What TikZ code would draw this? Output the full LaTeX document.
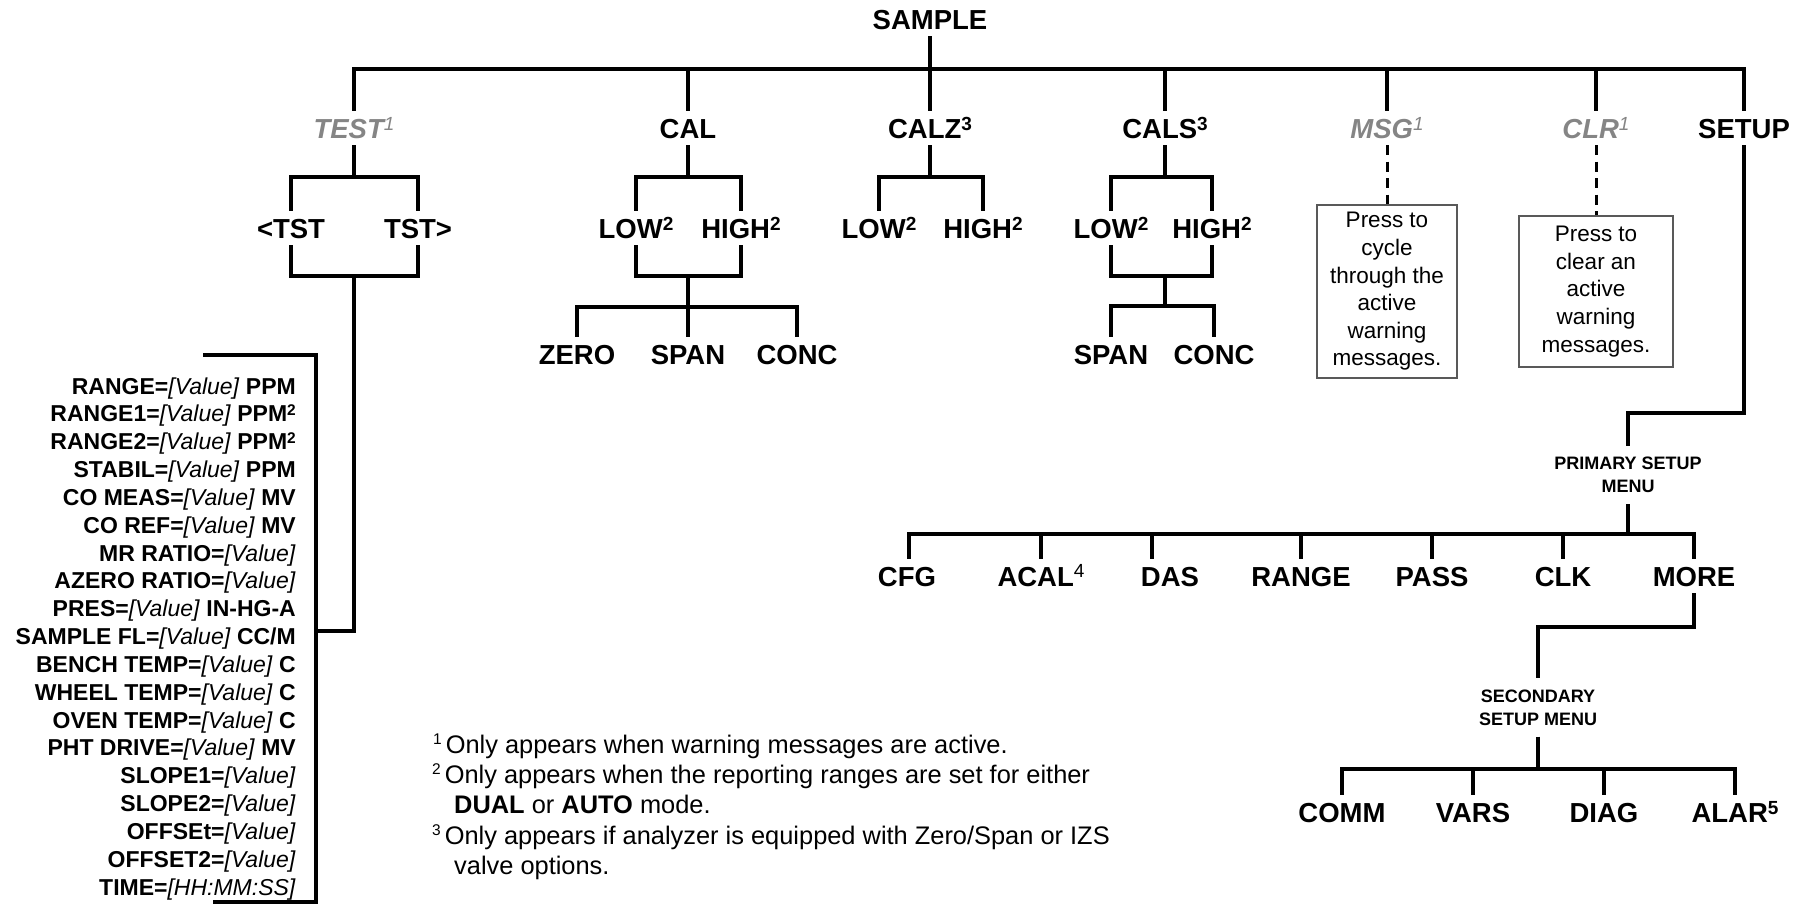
\documentclass[tikz,border=0pt]{standalone}
\usepackage{fontspec}
\setmainfont{Liberation Sans}
\definecolor{lgray}{gray}{0.52}
\definecolor{boxline}{gray}{0.35}
\newcommand\sups[1]{\raisebox{8pt}{\fontsize{19}{19}\selectfont #1}}
\newcommand\gsups[1]{\raisebox{8pt}{\fontsize{19}{19}\selectfont\mdseries\itshape #1}}
\newcommand\msups[1]{\raisebox{9pt}{\fontsize{19}{19}\selectfont\mdseries #1}}
\newcommand\rsup[1]{\raisebox{6pt}{\fontsize{15.5}{15.5}\selectfont #1}}
\newcommand\fsup[1]{\raisebox{9pt}{\fontsize{15.5}{15.5}\selectfont #1}}
\newcommand\vl{\textmd{\textit{[Value]}}}
\tikzset{
 lbl/.style={font=\fontsize{27.5}{30}\selectfont\bfseries, text height=20pt, text depth=0pt, inner xsep=1pt, inner ysep=7pt},
 glbl/.style={lbl, text=lgray, font=\fontsize{27.5}{30}\selectfont\bfseries\itshape},
 menu/.style={font=\fontsize{18}{23}\selectfont\bfseries, align=center, inner ysep=11pt, inner xsep=1pt},
 conn/.style={line width=4.8pt, line join=miter},
 dconn/.style={line width=3pt, dash pattern=on 10pt off 6.5pt},
 note/.style={draw=boxline, line width=1.3pt, font=\fontsize{22.5}{27.6}\selectfont, align=center, inner sep=0pt},
 row/.style={font=\fontsize{23}{27}\selectfont\bfseries, anchor=base east, inner sep=0pt},
 fn/.style={font=\fontsize{25.4}{30}\selectfont, anchor=base west, inner sep=0pt},
}
\begin{document}
\begin{tikzpicture}[x=1pt,y=-1pt]
\useasboundingbox (0,0) rectangle (1808,905);

% top level
\node[lbl] (sample) at (930,19) {SAMPLE};
\node[glbl] (test) at (354,128) {TEST\gsups{1}};
\node[lbl] (cal) at (688,128) {CAL};
\node[lbl] (calz) at (930,128) {CALZ\sups{3}};
\node[lbl] (cals) at (1165,128) {CALS\sups{3}};
\node[glbl] (msg) at (1387,128) {MSG\gsups{1}};
\node[glbl] (clr) at (1596,128) {CLR\gsups{1}};
\node[lbl] (setup) at (1744,128) {SETUP};
\coordinate (mbL) at (354,69);
\coordinate (mbR) at (1744,69);
\draw[conn] (test.north) -- (mbL) -- (mbR) -- (setup.north);
\foreach \n in {cal,cals,msg,clr} \draw[conn] (\n.north) -- (\n.north |- mbL);
\draw[conn] (sample.south) -- (calz.north);

% TEST subtree
\node[lbl] (ltst) at (291,228) {<TST};
\node[lbl] (rtst) at (418,228) {TST>};
\coordinate (tj1) at (354,177);
\coordinate (tj2) at (354,276);
\coordinate (tj3) at (354,631);
\coordinate (lj) at (316,631);
\draw[conn] (test.south) -- (tj1);
\draw[conn] (ltst.north) |- (tj1) -| (rtst.north);
\draw[conn] (ltst.south) |- (tj2) -| (rtst.south);
\draw[conn] (tj2) -- (tj3) -- (lj);
\coordinate (lt1) at (203,355);
\coordinate (lt2) at (316,355);
\coordinate (lb2) at (316,902);
\coordinate (lb1) at (213,902);
\draw[conn] (lt1) -- (lt2) -- (lb2) -- (lb1);

% list
\node[row] (r1) at (296,394) {RANGE=\vl{} PPM};
\node[row] (r2) at (296,421.8) {RANGE1=\vl{} PPM\rsup{2}};
\node[row] (r3) at (296,449.7) {RANGE2=\vl{} PPM\rsup{2}};
\node[row] (r4) at (296,477.5) {STABIL=\vl{} PPM};
\node[row] (r5) at (296,505.3) {CO MEAS=\vl{} MV};
\node[row] (r6) at (296,533.2) {CO REF=\vl{} MV};
\node[row] (r7) at (296,561) {MR RATIO=\vl};
\node[row] (r8) at (296,588.8) {AZERO RATIO=\vl};
\node[row] (r9) at (296,616.6) {PRES=\vl{} IN-HG-A};
\node[row] (r10) at (296,644.5) {SAMPLE FL=\vl{} CC/M};
\node[row] (r11) at (296,672.3) {BENCH TEMP=\vl{} C};
\node[row] (r12) at (296,700.1) {WHEEL TEMP=\vl{} C};
\node[row] (r13) at (296,728) {OVEN TEMP=\vl{} C};
\node[row] (r14) at (296,755.8) {PHT DRIVE=\vl{} MV};
\node[row] (r15) at (296,783.6) {SLOPE1=\vl};
\node[row] (r16) at (296,811.5) {SLOPE2=\vl};
\node[row] (r17) at (296,839.3) {OFFSEt=\vl};
\node[row] (r18) at (296,867.1) {OFFSET2=\vl};
\node[row] (r19) at (296,895) {TIME=\textmd{\textit{[HH:MM:SS]}}};

% CAL subtree
\node[lbl] (clow) at (636,228) {LOW\sups{2}};
\node[lbl] (chigh) at (741,228) {HIGH\sups{2}};
\node[lbl] (zero) at (577,354) {ZERO};
\node[lbl] (cspan) at (688,354) {SPAN};
\node[lbl] (cconc) at (797,354) {CONC};
\coordinate (cj1) at (688,177);
\coordinate (cj2) at (688,276);
\coordinate (cj3) at (688,307);
\draw[conn] (cal.south) -- (cj1);
\draw[conn] (clow.north) |- (cj1) -| (chigh.north);
\draw[conn] (clow.south) |- (cj2) -| (chigh.south);
\draw[conn] (cj2) -- (cspan.north);
\draw[conn] (zero.north) |- (cj3) -| (cconc.north);

% CALZ subtree
\node[lbl] (zlow) at (879,228) {LOW\sups{2}};
\node[lbl] (zhigh) at (983,228) {HIGH\sups{2}};
\coordinate (zj1) at (930,177);
\draw[conn] (calz.south) -- (zj1);
\draw[conn] (zlow.north) |- (zj1) -| (zhigh.north);

% CALS subtree
\node[lbl] (slow) at (1111,228) {LOW\sups{2}};
\node[lbl] (shigh) at (1212,228) {HIGH\sups{2}};
\node[lbl] (sspan) at (1111,354) {SPAN};
\node[lbl] (sconc) at (1214,354) {CONC};
\coordinate (sj1) at (1165,177);
\coordinate (sj2) at (1165,276);
\coordinate (sj3) at (1165,306);
\draw[conn] (cals.south) -- (sj1);
\draw[conn] (slow.north) |- (sj1) -| (shigh.north);
\draw[conn] (slow.south) |- (sj2) -| (shigh.south);
\draw[conn] (sj2) -- (sj3);
\draw[conn] (sspan.north) |- (sj3) -| (sconc.north);

% MSG / CLR boxes
\node[note, minimum width=140pt, minimum height=173pt] (mbox) at (1387,291.5) {Press to\\cycle\\through the\\active\\warning\\messages.};
\draw[dconn] (msg.south) -- (mbox.north);
\node[note, minimum width=154pt, minimum height=151pt] (cbox) at (1596,291.5) {Press to\\clear an\\active\\warning\\messages.};
\draw[dconn] (clr.south) -- (cbox.north);

% SETUP
\node[menu] (pmenu) at (1628,475) {PRIMARY SETUP\\MENU};
\coordinate (s1) at (1744,413);
\draw[conn] (setup.south) -- (s1) -| (pmenu.north);
\coordinate (pb) at (1628,534);
\draw[conn] (pmenu.south) -- (pb);
\node[lbl] (cfg) at (907,576) {CFG};
\node[lbl] (acal) at (1041,576) {ACAL\msups{4}};
\node[lbl] (das) at (1170,576) {DAS};
\node[lbl] (range) at (1301,576) {RANGE};
\node[lbl] (pass) at (1432,576) {PASS};
\node[lbl] (clk) at (1563,576) {CLK};
\node[lbl] (more) at (1694,576) {MORE};
\draw[conn] ([xshift=2pt]cfg.north) |- (pb) -| (more.north);
\draw[conn] ([xshift=-18pt]das.north) -- ([xshift=-18pt]das.north |- pb);
\foreach \n in {acal,range,pass,clk} \draw[conn] (\n.north) -- (\n.north |- pb);

\node[menu] (smenu) at (1538,707.5) {SECONDARY\\SETUP MENU};
\coordinate (m1) at (1694,627);
\draw[conn] (more.south) -- (m1) -| (smenu.north);
\coordinate (sb) at (1538,769);
\draw[conn] (smenu.south) -- (sb);
\node[lbl] (comm) at (1342,812) {COMM};
\node[lbl] (vars) at (1473,812) {VARS};
\node[lbl] (diag) at (1604,812) {DIAG};
\node[lbl] (alar) at (1735,812) {ALAR\sups{5}};
\draw[conn] (comm.north) |- (sb) -| (alar.north);
\foreach \n in {vars,diag} \draw[conn] (\n.north) -- (\n.north |- sb);

% footnotes
\node[fn] (fn1) at (433,753) {\fsup{1}\hspace{4pt}Only appears when warning messages are active.};
\node[fn] (fn2) at (432,783) {\fsup{2}\hspace{4pt}Only appears when the reporting ranges are set for either};
\node[fn] (fn3) at (454,813) {\textbf{DUAL} or \textbf{AUTO} mode.};
\node[fn] (fn4) at (432,844) {\fsup{3}\hspace{4pt}Only appears if analyzer is equipped with Zero/Span or IZS};
\node[fn] (fn5) at (454,874) {valve options.};
\end{tikzpicture}
\end{document}
